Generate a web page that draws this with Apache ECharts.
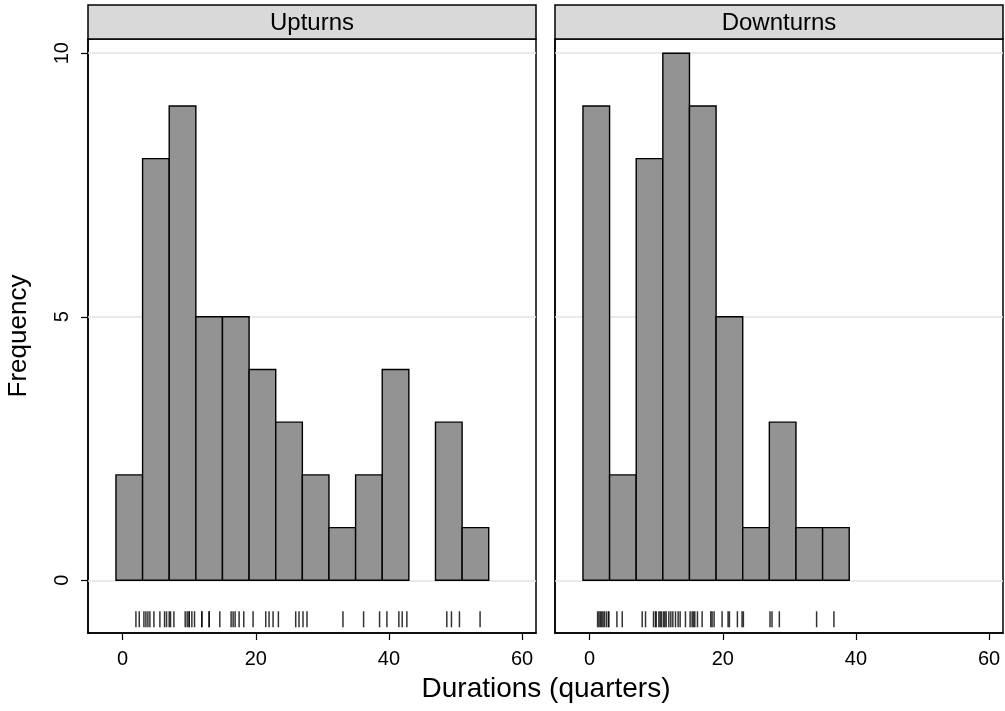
<!DOCTYPE html>
<html><head><meta charset="utf-8">
<script src="https://cdn.jsdelivr.net/npm/echarts@6/dist/echarts.min.js"></script>
<style>html,body{margin:0;padding:0;background:#fff}#c{width:1005px;height:711px}</style>
</head><body><div id="c"></div><script>
// ---- data ----
const binWidth = 4;
const panelTitles = ['Upturns', 'Downturns'];
const upEdges = [-1, 3, 7, 11, 15, 19, 23, 27, 31, 35, 39, 43, 47, 51];
const upCounts = [2, 8, 9, 5, 5, 4, 3, 2, 1, 2, 4, 0, 3, 1];
const downEdges = [-1, 3, 7, 11, 15, 19, 23, 27, 31, 35];
const downCounts = [9, 2, 8, 10, 9, 5, 1, 3, 1, 1];
const upRug = [2.0, 2.5, 3.2, 3.5, 3.8, 4.1, 4.7, 5.6, 6.3, 6.6, 7.0, 7.2, 7.7, 9.4, 9.7, 10.0, 10.0, 10.4, 10.8,
  11.9, 11.9, 13.0, 13.0, 14.6, 16.3, 16.6, 16.9, 17.5, 18.2, 19.6, 21.5, 22.0, 22.6, 23.4, 26.0, 26.5,
  27.1, 27.7, 33.1, 36.2, 38.6, 39.7, 41.5, 42.0, 42.7, 48.7, 49.4, 50.6, 53.7];
const downRug = [1.2, 1.4, 1.6, 1.8, 2.0, 2.2, 2.5, 2.8, 2.9, 4.1, 4.9, 7.9, 8.4, 9.6, 9.9, 10.0, 10.4, 10.6, 10.8,
  11.1, 11.3, 11.5, 11.9, 12.2, 12.5, 12.9, 13.3, 13.6, 14.4, 15.1, 15.4, 15.6, 15.8, 16.2, 16.9, 18.2, 18.4, 18.7,
  19.9, 20.8, 21.0, 22.2, 22.9, 23.1, 27.1, 27.4, 28.5, 34.1, 36.7];
const xTicks = [0, 20, 40, 60];
const yTicks = [0, 5, 10];
const xTitle = 'Durations (quarters)';
const yTitle = 'Frequency';

// ---- layout / style ----
const FONT = "'Liberation Sans', Arial, Helvetica, sans-serif";
const RUG_Y = -0.74;
const grids = [
  {left: 88, top: 39, width: 448, height: 594},
  {left: 555, top: 39, width: 448, height: 594}
];

function renderBar(params, api) {
  const x0 = api.value(0), c = api.value(1);
  if (!c) return null;
  const p0 = api.coord([x0, 0]);
  const p1 = api.coord([x0 + binWidth, c]);
  return {
    type: 'rect',
    shape: {x: p0[0], y: p1[1], width: p1[0] - p0[0], height: p0[1] - p1[1]},
    style: {fill: '#939393', stroke: '#000', lineWidth: 1.4}
  };
}

const panels = [
  {edges: upEdges, counts: upCounts, rug: upRug},
  {edges: downEdges, counts: downCounts, rug: downRug}
];

const series = [];
panels.forEach((p, i) => {
  series.push({
    type: 'scatter', xAxisIndex: i, yAxisIndex: i, z: 1, silent: true,
    symbol: 'rect', symbolSize: [1.5, 16],
    itemStyle: {color: '#000'},
    data: p.rug.map(v => [v, RUG_Y]),
    markLine: {
      z: 1, silent: true, symbol: 'none', label: {show: false},
      lineStyle: {color: '#e3e3e3', width: 1.5, type: 'solid'},
      data: yTicks.map(v => ({yAxis: v}))
    }
  });
  series.push({
    type: 'custom', xAxisIndex: i, yAxisIndex: i, z: 3, silent: true,
    renderItem: renderBar,
    encode: {x: 0, y: 1},
    data: p.edges.map((e, k) => [e, p.counts[k]])
  });
});

const graphic = [];
grids.forEach((g, i) => {
  graphic.push({
    type: 'rect', silent: true,
    shape: {x: g.left, y: 5, width: g.width, height: g.top - 5},
    style: {fill: '#d9d9d9', stroke: '#000', lineWidth: 1.5}
  });
  graphic.push({
    type: 'text', silent: true,
    x: g.left + g.width / 2, y: (g.top + 5) / 2 + 1,
    style: {text: panelTitles[i], fill: '#000', font: '24px ' + FONT, textAlign: 'center', textVerticalAlign: 'middle'}
  });
});
graphic.push({
  type: 'text', silent: true, x: 546, y: 689,
  style: {text: xTitle, fill: '#000', font: '28px ' + FONT, textAlign: 'center', textVerticalAlign: 'middle'}
});

const option = {
  animation: false,
  backgroundColor: '#fff',
  grid: grids.map(g => Object.assign({show: true, borderColor: '#000', borderWidth: 1.5, backgroundColor: 'transparent'}, g)),
  xAxis: grids.map((g, i) => ({
    type: 'value', gridIndex: i, min: -5.2, max: 62.1,
    axisLine: {show: true, onZero: false, lineStyle: {color: '#000', width: 1.5}},
    axisTick: {show: true, length: 7, lineStyle: {color: '#000', width: 1.2}, customValues: xTicks},
    axisLabel: {show: true, customValues: xTicks, fontSize: 20, color: '#000', margin: 16, fontFamily: FONT},
    splitLine: {show: false}
  })),
  yAxis: grids.map((g, i) => ({
    type: 'value', gridIndex: i, min: -1, max: 10.27,
    name: i === 0 ? yTitle : '', nameLocation: 'middle', nameGap: 56,
    nameTextStyle: {fontSize: 26, color: '#000', fontFamily: FONT},
    axisLine: {show: true, onZero: false, lineStyle: {color: '#000', width: 1.5}},
    axisTick: {show: i === 0, length: 7, lineStyle: {color: '#000', width: 1.2}, customValues: yTicks},
    axisLabel: {show: i === 0, customValues: yTicks, rotate: 90, fontSize: 20, color: '#000', margin: 16, fontFamily: FONT},
    splitLine: {show: false}
  })),
  graphic: graphic,
  series: series
};

const chart = echarts.init(document.getElementById('c'), null, {renderer: 'canvas'});
chart.setOption(option);
</script></body></html>
